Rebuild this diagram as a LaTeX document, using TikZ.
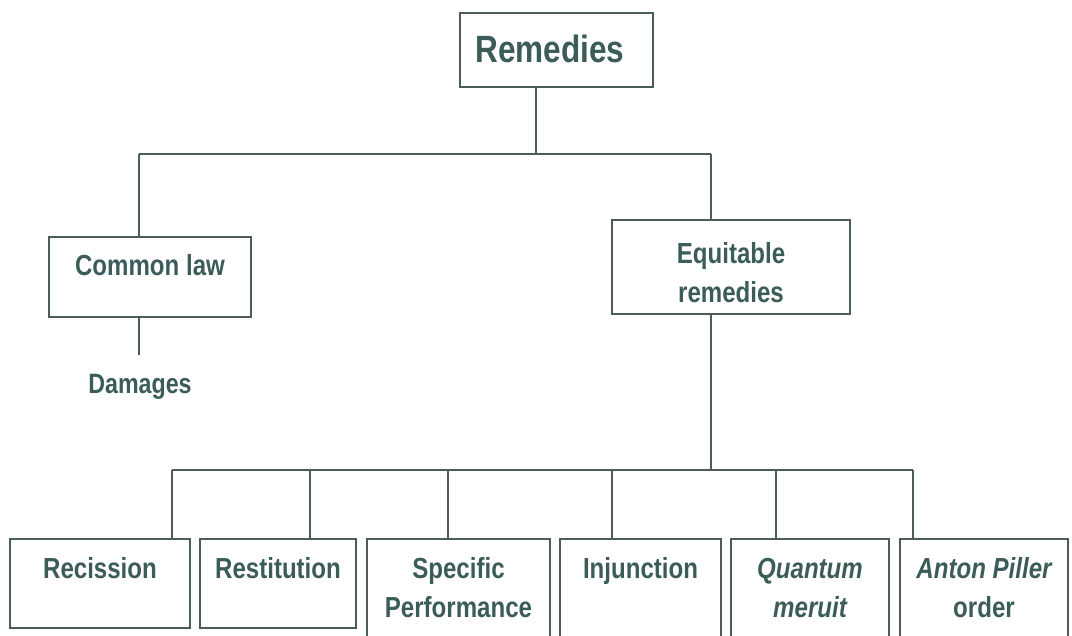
\documentclass[tikz,border=0pt]{standalone}
\usepackage{fontspec}
\setmainfont{Liberation Sans}[FakeStretch=0.83]
\definecolor{txtc}{RGB}{60,92,90}
\definecolor{linec}{RGB}{76,92,92}
\newcommand{\tstrut}{\rule{0pt}{24pt}}
\begin{document}
\begin{tikzpicture}[x=1pt,y=-1pt,
  boxst/.style={draw=linec, line width=2.2pt, fill=white, rectangle, inner sep=0pt},
  txt/.style={text=txtc, inner sep=0pt, font=\fontsize{29}{39}\selectfont\bfseries, align=center},
  conn/.style={draw=linec, line width=2.2pt}]
\useasboundingbox (0,0) rectangle (1072,636);
\clip (0,0) rectangle (1072,636);
\fill[white] (0,0) rectangle (1072,636);
% boxes
\node[boxst, minimum width=193pt, minimum height=74pt] (rem) at (556.5,50) {};
\node[boxst, minimum width=202pt, minimum height=80pt] (cl) at (150,277) {};
\node[boxst, minimum width=238pt, minimum height=94pt] (eq) at (731,267) {};
\node[boxst, minimum width=180pt, minimum height=89pt] (rec) at (100,583.5) {};
\node[boxst, minimum width=156pt, minimum height=89pt] (rest) at (278,583.5) {};
\node[boxst, minimum width=183pt, minimum height=106pt] (spec) at (458.5,592) {};
\node[boxst, minimum width=161pt, minimum height=106pt] (inj) at (640.5,592) {};
\node[boxst, minimum width=158pt, minimum height=106pt] (qm) at (810,592) {};
\node[boxst, minimum width=168pt, minimum height=106pt] (ap) at (984,592) {};
% texts
\node[txt, anchor=base, font=\fontsize{38}{46}\selectfont\bfseries] (remt) at (550,63) {Remedies};
\node[txt, anchor=base] (clt) at (150,276) {Common law};
\node[txt, anchor=base, font=\fontsize{28}{38}\selectfont\bfseries] (dmg) at (140,394) {Damages};
\node[txt, anchor=north] (eqt) at (731,239) {\tstrut Equitable\\remedies};
\node[txt, anchor=base] (rect) at (100,578) {Recission};
\node[txt, anchor=base] (restt) at (278,578) {Restitution};
\node[txt, anchor=north] (spect) at (458.5,554) {\tstrut Specific\\Performance};
\node[txt, anchor=base] (injt) at (640.5,578) {Injunction};
\node[txt, anchor=north] (qmt) at (810,554) {\tstrut\itshape Quantum\\\itshape meruit};
\node[txt, anchor=north] (apt) at (984,554) {\tstrut\itshape Anton Piller\\order};
% connectors
\coordinate (j0) at (536,154);
\coordinate (jl) at (139,154);
\coordinate (jr) at (711,154);
\coordinate (dl) at (139,355);
\coordinate (be) at (711,470);
\coordinate (b1) at (172,470);
\coordinate (b2) at (310,470);
\coordinate (b3) at (448,470);
\coordinate (b4) at (612,470);
\coordinate (b5) at (776,470);
\coordinate (b6) at (913,470);
\draw[conn] (rem.south -| j0) -- (j0);
\draw[conn] (jl) -- (jr);
\draw[conn] (jl) -- (cl.north -| jl);
\draw[conn] (jr) -- (eq.north -| jr);
\draw[conn] (cl.south -| jl) -- (dl);
\draw[conn] (eq.south -| be) -- (be);
\draw[conn] (b1) -- (b6);
\draw[conn] (b1) -- (rec.north -| b1);
\draw[conn] (b2) -- (rest.north -| b2);
\draw[conn] (b3) -- (spec.north -| b3);
\draw[conn] (b4) -- (inj.north -| b4);
\draw[conn] (b5) -- (qm.north -| b5);
\draw[conn] (b6) -- (ap.north -| b6);
\end{tikzpicture}
\end{document}
